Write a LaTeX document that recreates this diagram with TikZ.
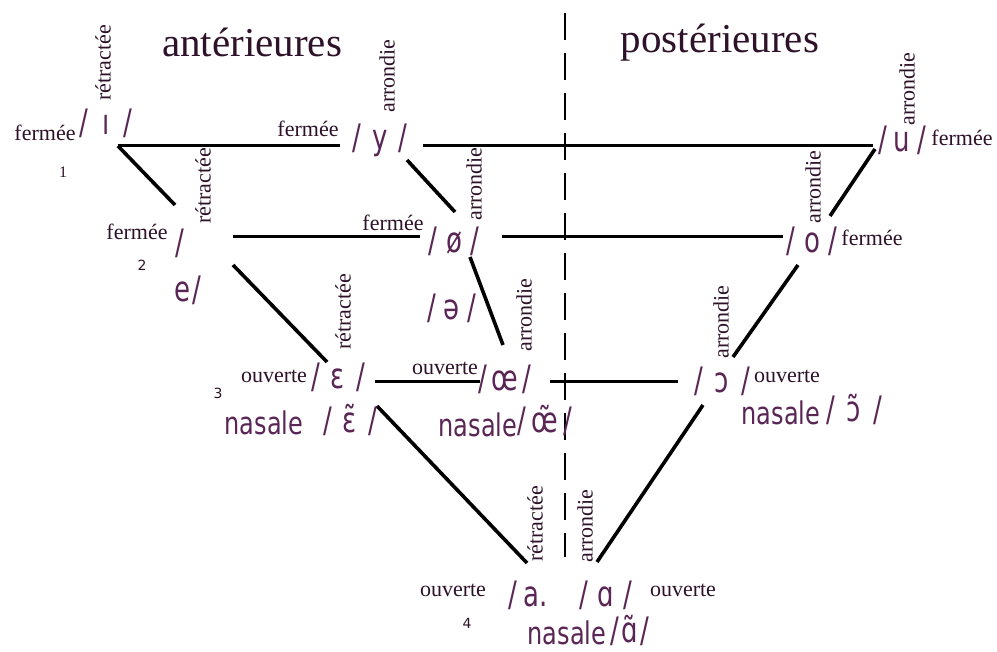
\documentclass[tikz,border=0pt]{standalone}
\usepackage{fontspec}
\setmainfont{Liberation Serif}
\newfontfamily\dvfont{DejaVu Sans}
\definecolor{labink}{HTML}{2E1229}
\definecolor{vowink}{HTML}{5A2656}
\newcommand{\vt}[1]{\scalebox{1}[1.35]{\fontsize{26}{30}\selectfont\dvfont #1}}
\newcommand{\vg}[2][9pt]{\vt{/\kern#1#2\kern#1/}}
\newcommand{\nasal}{\scalebox{1}[1.3]{\dvfont\fontsize{24}{28}\selectfont nasale}}
\tikzset{
  lab/.style={font=\fontsize{22}{25}\selectfont, text=labink, inner sep=0pt},
  rlab/.style={lab, rotate=90},
  head/.style={font=\fontsize{41}{48}\selectfont, text=labink, inner sep=0pt},
  vow/.style={text=vowink, inner sep=0pt},
  num/.style={font=\dvfont\fontsize{14}{16}\selectfont, text=labink, inner sep=0pt},
  bar/.style={line width=3pt, black},
  slope/.style={line width=3.6pt, black},
  midline/.style={line width=2.8pt, black, dash pattern=on 27pt off 13pt},
}
\begin{document}
\begin{tikzpicture}[x=1pt,y=-1pt]
\fill[white] (0,0) rectangle (997,652);
\useasboundingbox (0,0) rectangle (997,652);

% headings
\node[head] (hant) at (252,42) {antérieures};
\node[head] (hpost) at (720,43) {postérieures};

% dashed divider
\coordinate (dtop) at (565,13);
\coordinate (dbot) at (565,557);
\draw[midline] (dtop) -- (dbot);

% connector end points
\coordinate (i0) at (118,146);
\coordinate (i1) at (340,146);
\coordinate (y1) at (423,146);
\coordinate (u0) at (873,146);
\coordinate (ie1) at (175,205);
\coordinate (yo0) at (407,160);
\coordinate (yo1) at (455,212);
\coordinate (e0) at (233,237);
\coordinate (e1) at (420,237);
\coordinate (oe0) at (502,237);
\coordinate (o0) at (783,237);
\coordinate (ee0) at (233,265);
\coordinate (ee1) at (327,362);
\coordinate (oo0) at (470,257);
\coordinate (oo1) at (503,345);
\coordinate (eps0) at (375,382);
\coordinate (eps1) at (480,382);
\coordinate (oeb0) at (550,382);
\coordinate (oeb1) at (678,382);
\coordinate (uo0) at (875,149);
\coordinate (uo1) at (830,216);
\coordinate (oc0) at (798,265);
\coordinate (oc1) at (733,357);
\coordinate (ca0) at (703,405);
\coordinate (ca1) at (597,562);
\coordinate (ea0) at (377,406);
\coordinate (ea1) at (527,563);

% connectors
\draw[bar] (i0) -- (i1);
\draw[bar] (y1) -- (u0);
\draw[slope] (i0) -- (ie1);
\draw[slope] (yo0) -- (yo1);
\draw[bar] (e0) -- (e1);
\draw[bar] (oe0) -- (o0);
\draw[slope] (ee0) -- (ee1);
\draw[slope] (oo0) -- (oo1);
\draw[bar] (eps0) -- (eps1);
\draw[bar] (oeb0) -- (oeb1);
\draw[slope] (uo0) -- (uo1);
\draw[slope] (oc0) -- (oc1);
\draw[slope] (ca0) -- (ca1);
\draw[slope] (ea0) -- (ea1);

% row 1
\node[lab] (feri) at (45,133) {fermée};
\node[vow] (vi) at (106,123) {\vg[14pt]{ı}};
\node[rlab] (reti) at (103,63) {rétractée};
\node[font=\fontsize{16}{18}\selectfont, text=labink, inner sep=0pt] (n1) at (63,172) {1};
\node[lab] (fery) at (308,129) {fermée};
\node[vow] (vy) at (380,140) {\vg[11pt]{y}};
\node[rlab] (arry) at (387,76) {arrondie};
\node[vow] (vu) at (902,140) {\vg[7pt]{u}};
\node[lab] (feru) at (962,138) {fermée};
\node[rlab] (arru) at (907,89) {arrondie};

% row 2
\node[rlab] (rete) at (203,186) {rétractée};
\node[lab] (fere) at (137,232) {fermée};
\node[vow] (se) at (180,243) {\vt{/}};
\node[num] (n2) at (142,265) {2};
\node[vow] (ve) at (188,290) {\vt{e\kern2pt/}};
\node[lab] (ferø) at (393,223) {fermée};
\node[vow] (vø) at (454,241) {\vg[9pt]{ø}};
\node[rlab] (arrø) at (474,184) {arrondie};
\node[vow] (vo) at (812,241) {\vg[9pt]{o}};
\node[lab] (fero) at (872,238) {fermée};
\node[rlab] (arro) at (813,187) {arrondie};
\node[vow] (vschwa) at (452,308) {\vg[8pt]{ə}};

% row 3
\node[rlab] (reteps) at (343,312) {rétractée};
\node[rlab] (arroe) at (524,315) {arrondie};
\node[rlab] (arroc) at (721,322) {arrondie};
\node[num] (n3) at (218,393) {3};
\node[lab] (ouveps) at (274,376) {ouverte};
\node[vow] (veps) at (338,377) {\vg[11pt]{ɛ}};
\node[lab] (ouvoe) at (445,368) {ouverte};
\node[vow] (voe) at (505,379) {\vg[4pt]{œ}};
\node[vow] (voc) at (722,381) {\vg[12pt]{ɔ}};
\node[lab] (ouvoc) at (787,376) {ouverte};
\node[vow] (naseps) at (264,423) {\nasal};
\node[vow] (veps2) at (350,420) {\vg[11pt]{ɛ̃}};
\node[vow] (nasoe) at (478,425) {\nasal};
\node[vow] (voe2) at (545,420) {\vg[5pt]{œ̃}};
\node[vow] (nasoc) at (781,413) {\nasal};
\node[vow] (voc2) at (854,409) {\vg[12pt]{ɔ̃}};

% row 4
\node[rlab] (reta) at (535,524) {rétractée};
\node[rlab] (arra) at (585,526) {arrondie};
\node[lab] (ouva) at (453,590) {ouverte};
\node[vow] (va) at (528,595) {\vt{/\kern6pt a.}};
\node[vow] (valpha) at (606,595) {\vg[9pt]{ɑ}};
\node[lab] (ouvalpha) at (683,590) {ouverte};
\node[num] (n4) at (467,623) {4};
\node[vow] (nasa) at (567,633) {\nasal};
\node[vow] (valpha2) at (630,630) {\vg[2pt]{ɑ̃}};
\end{tikzpicture}
\end{document}
